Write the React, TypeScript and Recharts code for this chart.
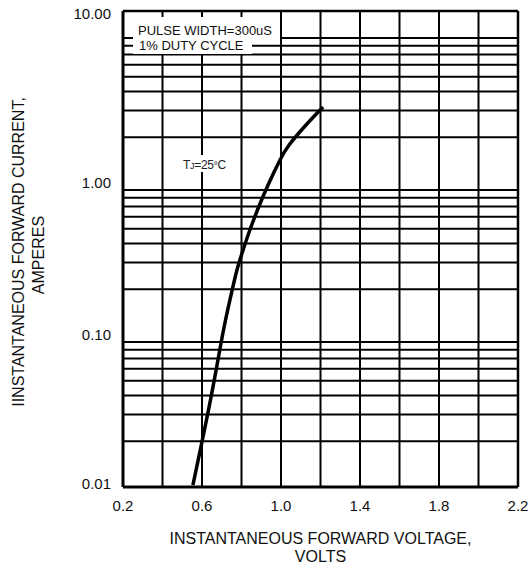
import { Line, LineChart, ReferenceLine, XAxis, YAxis } from 'recharts';

// forward voltage (V) vs forward current (A)
const VOLTS = [0.554, 0.643, 0.706, 0.747, 0.777, 0.808, 0.846, 0.889, 0.939, 0.995, 1.041, 1.122, 1.213];
const AMPS = [0.0103, 0.0374, 0.1031, 0.1833, 0.2677, 0.3624, 0.5057, 0.706, 1.0, 1.417, 1.778, 2.371, 3.16];

const X_TICKS = [0.2, 0.6, 1.0, 1.4, 1.8, 2.2];
const X_GRID = [0.4, 0.6, 0.8, 1.0, 1.2, 1.4, 1.6, 1.8, 2.0];
const Y_GRID = [
  0.02, 0.03, 0.04, 0.05, 0.06, 0.07, 0.08, 0.09,
  0.2, 0.3, 0.4, 0.5, 0.6, 0.7, 0.8, 0.9,
  2, 3, 4, 5, 6, 7, 8, 9,
];
// the frame of the original runs a little past the 10 A decade
const Y_MIN = 0.01;
const Y_TOP = 13.54;
const Y_TICKS = [0.01, 0.1, 1, Y_TOP];
const Y_TICK_LABELS = ['0.01', '0.10', '1.00', '10.00'];

const data = VOLTS.map((v, i) => ({ v, a: AMPS[i] }));

const FONT = '"Liberation Sans", Arial, sans-serif';
const INK = '#000';

function XTick(props: { x?: number; y?: number; payload?: { value: number } }) {
  const { x = 0, y = 0, payload } = props;
  return (
    <text x={x} y={y + 23.5} textAnchor="middle" fontSize={15} fontFamily={FONT} fill="#111">
      {payload ? payload.value.toFixed(1) : ''}
    </text>
  );
}

function YTick(props: { x?: number; y?: number; payload?: { value: number }; index?: number }) {
  const { x = 0, y = 0, payload, index = 0 } = props;
  let shift = 0;
  if (payload?.value === Y_MIN) shift = -3;
  if (payload?.value === Y_TOP) shift = 3;
  return (
    <text x={x - 12} y={y + 5.3 + shift} textAnchor="end" fontSize={15} fontFamily={FONT} fill="#111">
      {Y_TICK_LABELS[index]}
    </text>
  );
}

export default function App() {
  return (
    <div style={{ position: 'absolute', left: 0, top: 0, width: 528, height: 566, background: '#fff' }}>
      <LineChart
        width={528}
        height={566}
        data={data}
        margin={{ top: 11, right: 10, bottom: 39, left: 0 }}
      >
        <XAxis
          type="number"
          dataKey="v"
          domain={[0.2, 2.2]}
          ticks={X_TICKS}
          allowDataOverflow
          axisLine={false}
          tickLine={false}
          tickSize={0}
          tickMargin={0}
          height={40}
          tick={<XTick />}
        />
        <YAxis
          type="number"
          scale="log"
          domain={[Y_MIN, Y_TOP]}
          ticks={Y_TICKS}
          allowDataOverflow
          axisLine={false}
          tickLine={false}
          tickSize={0}
          tickMargin={0}
          width={123}
          tick={<YTick />}
        />
        {X_GRID.map(v => (
          <ReferenceLine key={`x${v}`} x={v} stroke={INK} strokeWidth={2} />
        ))}
        {Y_GRID.map(v => (
          <ReferenceLine key={`y${v}`} y={v} stroke={INK} strokeWidth={2} />
        ))}
        <ReferenceLine x={0.2} stroke={INK} strokeWidth={3} />
        <ReferenceLine x={2.2} stroke={INK} strokeWidth={2.5} />
        <ReferenceLine y={Y_TOP} stroke={INK} strokeWidth={2.5} />
        <ReferenceLine y={Y_MIN} stroke={INK} strokeWidth={3} />
        <Line
          type="natural"
          dataKey="a"
          stroke={INK}
          strokeWidth={3.5}
          dot={false}
          isAnimationActive={false}
        />
      </LineChart>

      <svg
        width={528}
        height={566}
        style={{ position: 'absolute', left: 0, top: 0, pointerEvents: 'none' }}
        fontFamily={FONT}
      >
        {/* test conditions box */}
        <rect x={133} y={17} width={147} height={27} fill="#fff" />
        <rect x={133} y={44} width={119} height={10} fill="#fff" />
        <text x={138} y={34.7} fontSize={13} fill="#111">PULSE WIDTH=300uS</text>
        <text x={139} y={49.7} fontSize={13} fill="#111">1% DUTY CYCLE</text>

        <rect x={181} y={155} width={46} height={17} fill="#fff" />
        <text x={183} y={168.5} fontSize={12} fill="#222" letterSpacing={-0.3}>
          T<tspan fontSize={9}>J</tspan>=25<tspan fontSize={10}>°</tspan>C
        </text>

        <text x={320.5} y={544} textAnchor="middle" fontSize={16} fill="#111">
          INSTANTANEOUS FORWARD VOLTAGE,
        </text>
        <text x={320.5} y={562} textAnchor="middle" fontSize={16} fill="#111">
          VOLTS
        </text>

        <text transform="translate(24 252) rotate(-90)" textAnchor="middle" fontSize={16} fill="#111">
          IINSTANTANEOUS FORWARD CURRENT,
        </text>
        <text transform="translate(44 255) rotate(-90)" textAnchor="middle" fontSize={16} fill="#111">
          AMPERES
        </text>
      </svg>
    </div>
  );
}
